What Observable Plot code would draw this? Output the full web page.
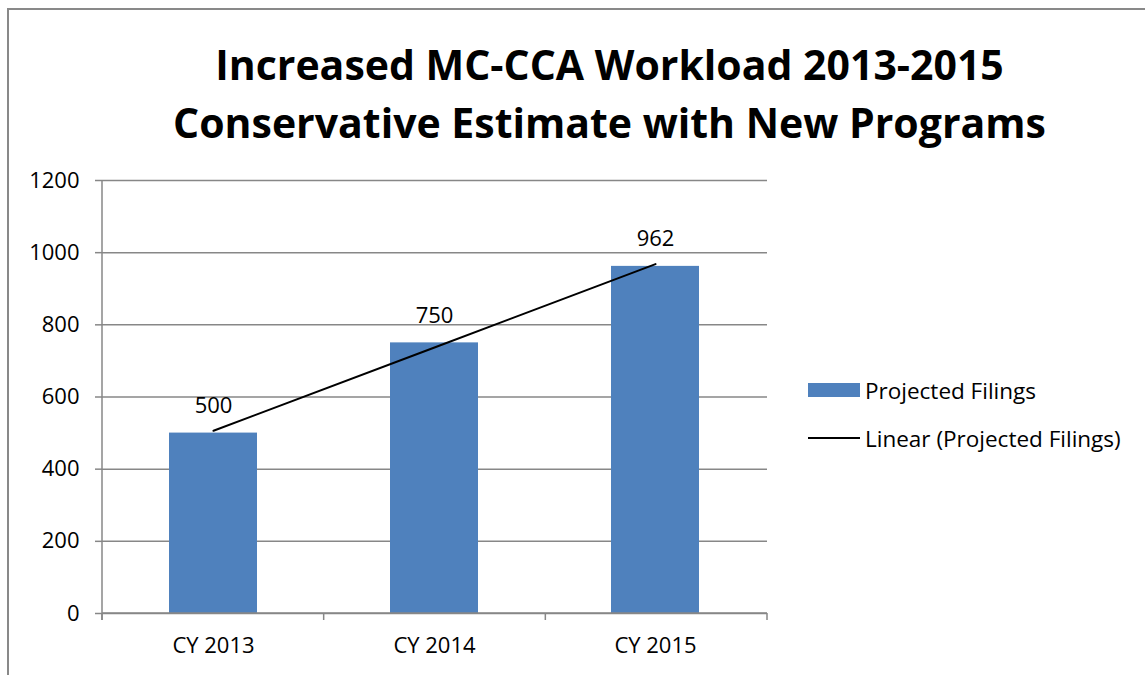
<!DOCTYPE html>
<html>
<head>
<meta charset="utf-8">
<script src="https://cdn.jsdelivr.net/npm/d3@7"></script>
<script src="https://cdn.jsdelivr.net/npm/@observablehq/plot@0.6"></script>
<style>
  html, body { margin: 0; padding: 0; background: #fff; overflow: hidden; }
  body { width: 1145px; height: 675px; position: relative; font-family: "Open Sans", "Noto Sans", sans-serif; }
  #border { position: absolute; left: 7px; top: 8px; width: 1300px; height: 800px; border: 2px solid #898989; box-sizing: border-box; }
  #chart { position: absolute; left: 0; top: 0; }
  .title { position: absolute; left: 0; width: 1219px; text-align: center; font-weight: 700; font-size: 41px; color: #000; white-space: nowrap; line-height: 1; }
  #legend { position: absolute; left: 808px; top: 366px; font-size: 22.5px; color: #000; }
  .item { position: relative; height: 48px; display: flex; align-items: center; }
  .sw { width: 52px; margin-right: 5px; }
</style>
</head>
<body>
<div id="border"></div>
<div id="chart"></div>
<div class="title" id="t1" style="top:44px">Increased MC-CCA Workload 2013-2015</div>
<div class="title" id="t2" style="top:102px">Conservative Estimate with New Programs</div>
<div id="legend"></div>
<script>
const categories = ["CY 2013", "CY 2014", "CY 2015"];
const filings = [500, 750, 962];
const yTicks = [0, 200, 400, 600, 800, 1000, 1200];
const seriesName = "Projected Filings";
const trendName = "Linear (Projected Filings)";

const data = categories.map((c, i) => ({cat: c, value: filings[i], idx: i + 1}));
// least-squares linear trend
const reg = d3.mean(data, d => d.idx), my = d3.mean(data, d => d.value);
const slope = d3.sum(data, d => (d.idx - reg) * (d.value - my)) / d3.sum(data, d => (d.idx - reg) ** 2);
const trend = data.map(d => ({cat: d.cat, value: my + slope * (d.idx - reg)}));

const barColor = "#4F81BD";
const gridColor = "#878787";

function axisLines(index, scales, values, dimensions) {
  const {width, marginLeft, marginRight} = dimensions;
  const g = d3.create("svg:g").attr("stroke", gridColor).attr("stroke-width", 1.5);
  const y0 = scales.y(0), yTop = scales.y(yTicks[yTicks.length - 1]);
  const n = categories.length;
  const step = (width - marginLeft - marginRight) / n;
  g.append("line").attr("x1", marginLeft).attr("x2", marginLeft).attr("y1", yTop).attr("y2", y0 + 7);
  g.append("line").attr("x1", marginLeft).attr("x2", width - marginRight).attr("y1", y0).attr("y2", y0);
  for (let k = 0; k <= n; k++) {
    const xx = marginLeft + k * step;
    g.append("line").attr("x1", xx).attr("x2", xx).attr("y1", y0).attr("y2", y0 + 7);
  }
  return g.node();
}

const plot = Plot.plot({
  width: 1145,
  height: 675,
  marginLeft: 102,
  marginRight: 378,
  marginTop: 180,
  marginBottom: 62,
  style: {fontFamily: '"Open Sans", "Noto Sans", sans-serif', fontSize: "22px", color: "#000", background: "transparent"},
  x: {domain: categories, padding: 0.6, paddingOuter: 0.3, label: null},
  y: {domain: [0, 1200], label: null},
  marks: [
    Plot.gridY(yTicks, {stroke: gridColor, strokeOpacity: 1, strokeWidth: 1.5}),
    Plot.axisY(yTicks, {tickSize: 7, tickPadding: 16, tickFormat: d3.format("d"), stroke: gridColor, strokeWidth: 1.5, fontSize: 22, fill: "#000", label: null}),
    Plot.axisX({tickSize: 0, tickPadding: 24, fontSize: 22, fill: "#000", label: null}),
    Plot.barY(data, {x: "cat", y: "value", fill: barColor}),
    axisLines,
    Plot.line(trend, {x: "cat", y: "value", stroke: "#000", strokeWidth: 2}),
    Plot.text(data, {x: "cat", y: "value", text: d => String(d.value), dy: -27, fontSize: 22, fill: "#000"})
  ]
});
document.getElementById("chart").appendChild(plot);

// legend
const legend = document.getElementById("legend");
legend.innerHTML = `
  <div class="item"><div class="sw" style="height:14px;background:${barColor}"></div><span>${seriesName}</span></div>
  <div class="item"><div class="sw" style="height:2px;background:#000"></div><span>${trendName}</span></div>`;
</script>
</body>
</html>
